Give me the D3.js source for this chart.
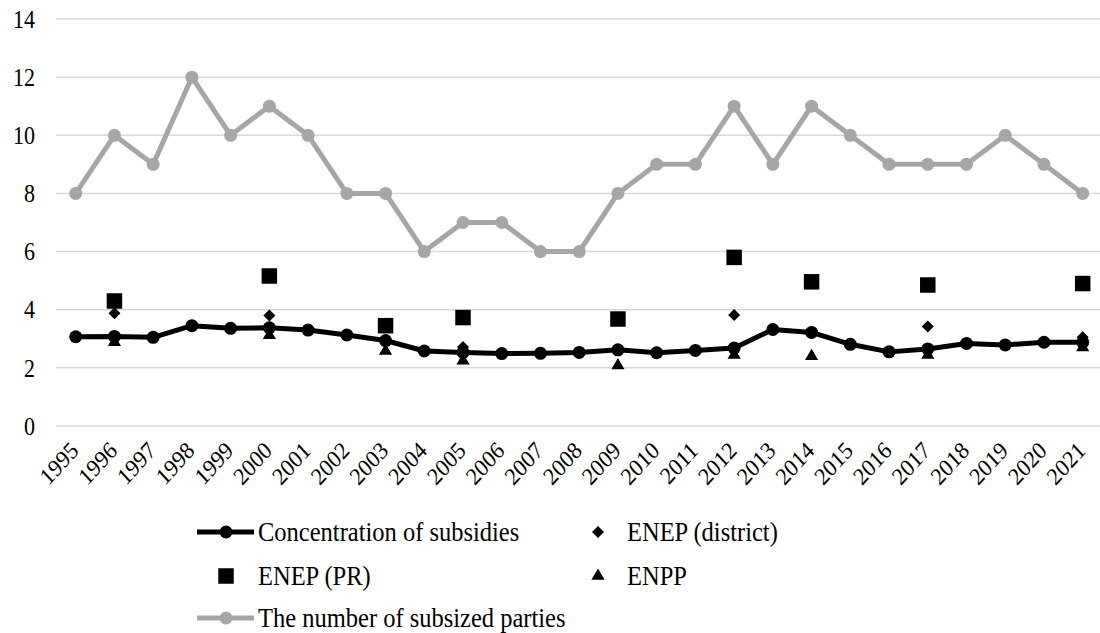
<!DOCTYPE html>
<html><head><meta charset="utf-8">
<script src="https://cdn.jsdelivr.net/npm/d3@7"></script>
<style>body{margin:0;background:#fff}svg{display:block}</style>
</head><body>
<script>
const years = ["1995","1996","1997","1998","1999","2000","2001","2002","2003","2004","2005","2006","2007","2008","2009","2010","2011","2012","2013","2014","2015","2016","2017","2018","2019","2020","2021"];
const concentration = [3.07,3.08,3.05,3.45,3.36,3.38,3.30,3.13,2.94,2.58,2.53,2.49,2.50,2.53,2.62,2.52,2.60,2.68,3.32,3.22,2.81,2.55,2.65,2.84,2.79,2.88,2.88];
const partiesCount = [8,10,9,12,10,11,10,8,8,6,7,7,6,6,8,9,9,11,9,11,10,9,9,9,10,9,8];
const enepDistrictYears = ["1996","2000","2005","2012","2017","2021"];
const enepDistrict = [3.88,3.80,2.72,3.82,3.42,3.05];
const enepPRYears = ["1996","2000","2003","2005","2009","2012","2014","2017","2021"];
const enepPR = [4.30,5.16,3.45,3.73,3.68,5.80,4.96,4.85,4.90];
const enppYears = ["1996","2000","2003","2005","2009","2012","2014","2017","2021"];
const enpp = [2.88,3.12,2.58,2.25,2.08,2.44,2.40,2.44,2.70];
const yTicks = [0,2,4,6,8,10,12,14];
const legendLabels = ["Concentration of subsidies","ENEP (district)","ENEP (PR)","ENPP","The number of subsized parties"];

const W = 1100, H = 633;
const FONT = '"Liberation Serif"';
const STRETCH = "scale(1,1.1)";
const svg = d3.select("body").append("svg").attr("width", W).attr("height", H);

const x = d3.scalePoint().domain(years).range([75.7, 1082.7]);
const y = d3.scaleLinear().domain([0,14]).range([426, 19]);

// grid
svg.append("g").selectAll("line").data(yTicks).join("line")
  .attr("x1", 56).attr("x2", 1100)
  .attr("y1", d => y(d)).attr("y2", d => y(d))
  .attr("stroke", "#d9d9d9").attr("stroke-width", 1.5);

// y axis labels
const yAxis = d3.axisLeft(y).tickValues(yTicks).tickSize(0).tickPadding(0);
const ya = svg.append("g").attr("transform", "translate(35,0)").call(yAxis);
ya.select(".domain").remove();
ya.selectAll("text").style("font-family", FONT).style("font-size", "22px").attr("fill", "#000")
  .attr("x", 0).attr("dy", "0.34em").attr("transform", STRETCH);

// x axis labels
const xAxis = d3.axisBottom(x).tickSize(0).tickPadding(0);
const xa = svg.append("g").call(xAxis);
xa.select(".domain").remove();
xa.selectAll(".tick").attr("transform", d => `translate(${x(d)+4},452)`);
xa.selectAll("text").style("font-family", FONT).style("font-size", "22px").attr("fill", "#000")
  .attr("y", 0).attr("dy", 0).attr("text-anchor", "end")
  .attr("transform", STRETCH + " rotate(-45)");

// grey line
const line = d3.line().x((d,i) => x(years[i])).y(d => y(d));
svg.append("path").datum(partiesCount).attr("d", line)
  .attr("fill", "none").attr("stroke", "#a6a6a6").attr("stroke-width", 5).attr("stroke-linejoin", "round");
svg.append("g").selectAll("circle").data(partiesCount).join("circle")
  .attr("cx", (d,i) => x(years[i])).attr("cy", d => y(d)).attr("r", 6.5).attr("fill", "#a6a6a6");

// markers
const sq = d3.symbol().type(d3.symbolSquare).size(240);
const dia = d3.symbol().type(d3.symbolSquare).size(72);
const tri = d3.symbol().type(d3.symbolTriangle).size(75);

svg.append("g").selectAll("path").data(enepPR).join("path")
  .attr("d", sq).attr("transform", (d,i) => `translate(${x(enepPRYears[i])},${y(d)})`).attr("fill", "#000");
svg.append("g").selectAll("path").data(enepDistrict).join("path")
  .attr("d", dia).attr("transform", (d,i) => `translate(${x(enepDistrictYears[i])},${y(d)}) rotate(45)`).attr("fill", "#000");
svg.append("g").selectAll("path").data(enpp).join("path")
  .attr("d", tri).attr("transform", (d,i) => `translate(${x(enppYears[i])},${y(d)})`).attr("fill", "#000");

// black line
svg.append("path").datum(concentration).attr("d", line)
  .attr("fill", "none").attr("stroke", "#000").attr("stroke-width", 5).attr("stroke-linejoin", "round");
svg.append("g").selectAll("circle").data(concentration).join("circle")
  .attr("cx", (d,i) => x(years[i])).attr("cy", d => y(d)).attr("r", 6.5).attr("fill", "#000");

// legend
const lg = svg.append("g");
function lineSym(cx, cy, col) {
  lg.append("line").attr("x1", cx-29).attr("x2", cx+28).attr("y1", cy).attr("y2", cy).attr("stroke", col).attr("stroke-width", 5);
  lg.append("circle").attr("cx", cx).attr("cy", cy).attr("r", 6.5).attr("fill", col);
}
function label(tx, ty, t) {
  lg.append("text").attr("transform", `translate(${tx},${ty}) ${STRETCH}`).attr("dy", "0.34em")
    .style("font-family", FONT).style("font-size", "24.5px").attr("fill", "#000").text(t);
}
lineSym(226, 532, "#000"); label(258, 532, legendLabels[0]);
lg.append("path").attr("d", dia).attr("transform", "translate(598,532) rotate(45)").attr("fill", "#000");
label(627, 532, legendLabels[1]);
lg.append("path").attr("d", sq).attr("transform", "translate(226,576)").attr("fill", "#000");
label(258, 576, legendLabels[2]);
lg.append("path").attr("d", tri).attr("transform", "translate(598,576)").attr("fill", "#000");
label(627, 576, legendLabels[3]);
lineSym(226, 618, "#a6a6a6"); label(258, 618, legendLabels[4]);
</script>
</body></html>
